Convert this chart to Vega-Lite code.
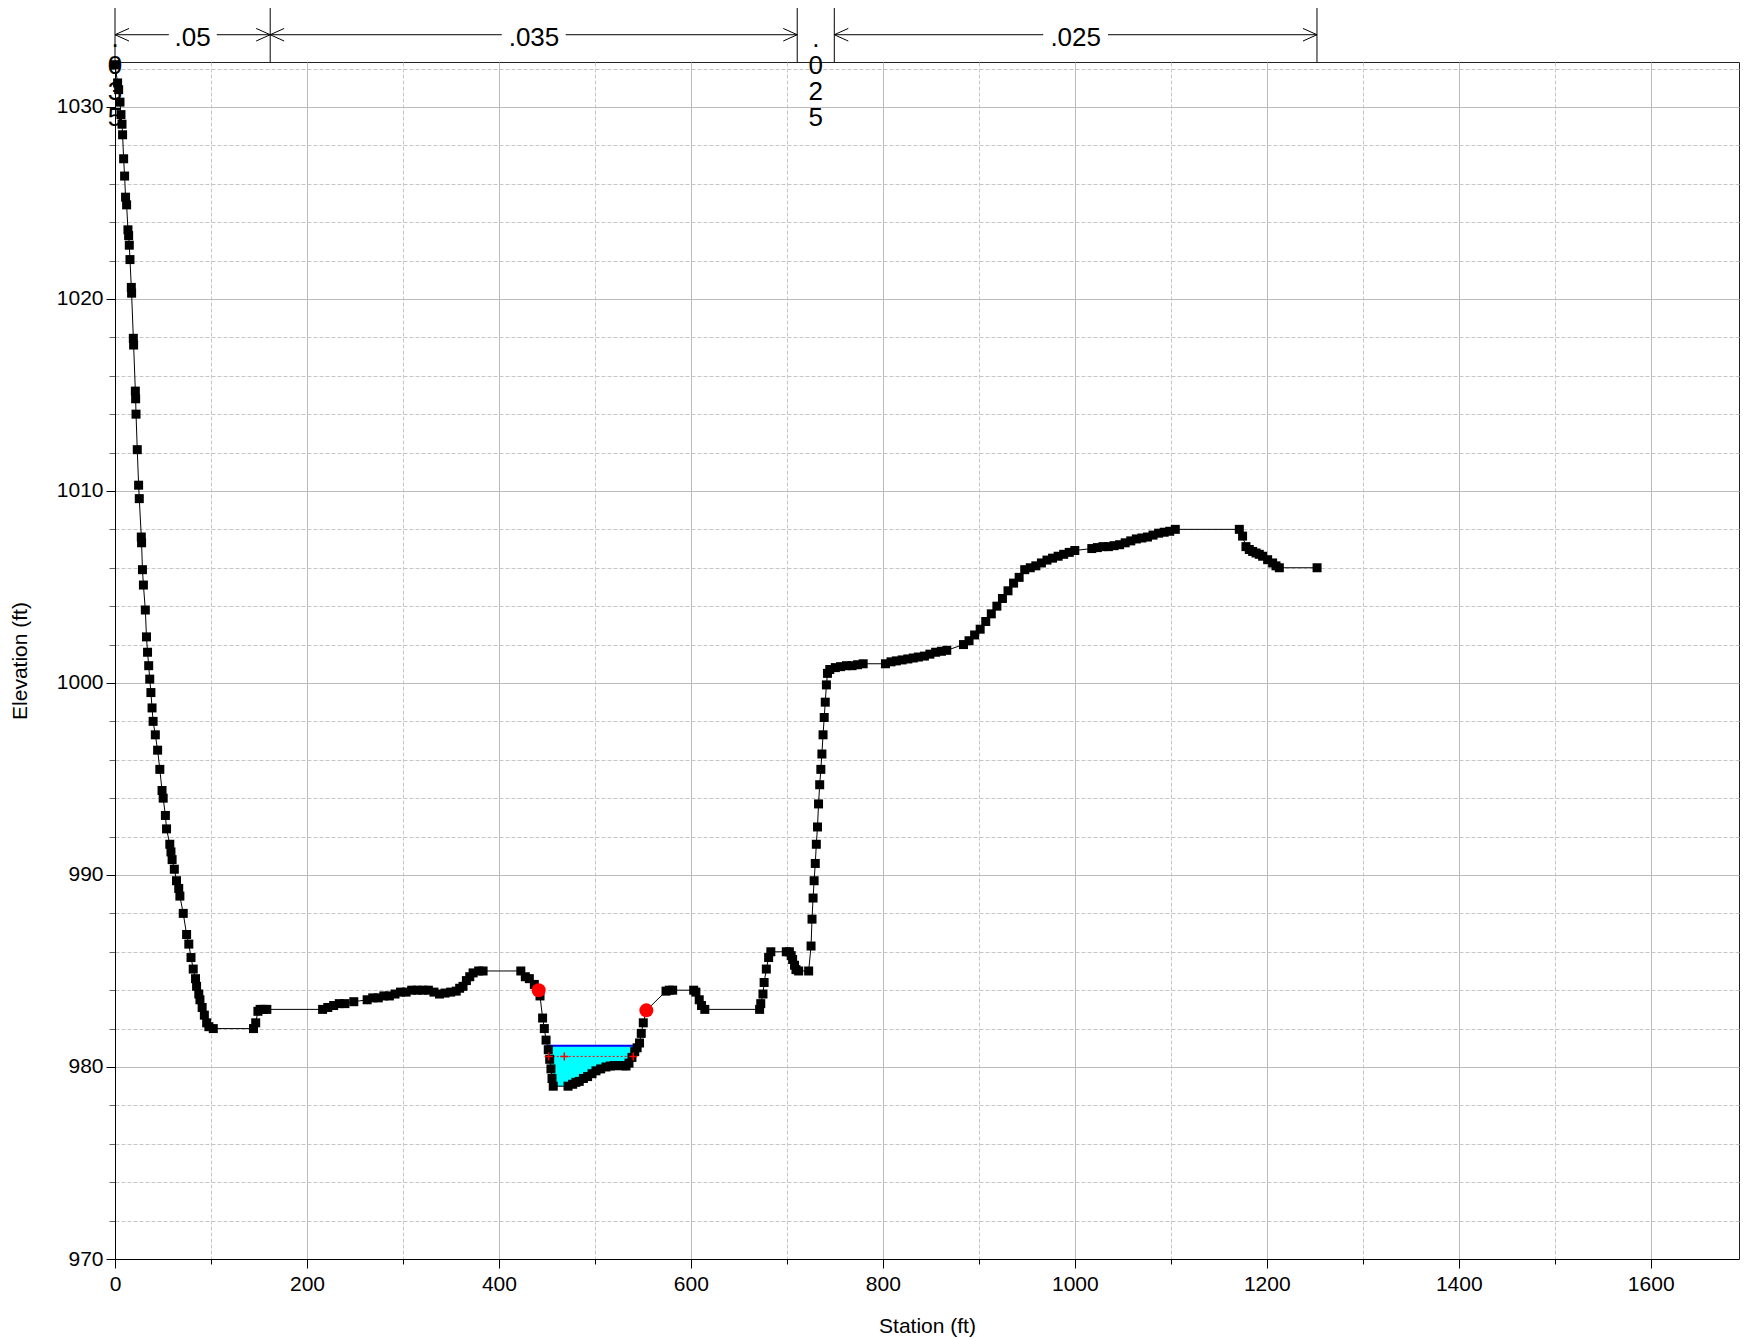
{
  "$schema": "https://vega.github.io/schema/vega-lite/v6.json",
  "width": 1624,
  "height": 1197,
  "autosize": {"type": "none"},
  "padding": {"left": 115, "top": 62, "right": 9, "bottom": 81},
  "background": "white",
  "config": {
    "view": {"stroke": "#222", "strokeWidth": 1},
    "font": "Liberation Sans"
  },
  "datasets": {
    "ground": [
      {"station":0,"elev":1032.2},{"station":2.7,"elev":1031.25},{"station":3.8,"elev":1030.9},{"station":5.2,"elev":1030.25},{"station":6.2,"elev":1029.6},{"station":7.3,"elev":1029.1},{"station":7.9,"elev":1028.55},{"station":9.0,"elev":1027.3},{"station":10.0,"elev":1026.4},{"station":11.0,"elev":1025.3},{"station":12.1,"elev":1024.9},{"station":13.5,"elev":1023.6},{"station":14.2,"elev":1023.3},{"station":14.9,"elev":1022.8},{"station":15.6,"elev":1022.05},{"station":17.0,"elev":1020.6},{"station":17.3,"elev":1020.3},{"station":19.1,"elev":1017.95},{"station":19.4,"elev":1017.6},{"station":21.2,"elev":1015.2},{"station":21.5,"elev":1014.8},{"station":21.9,"elev":1014.0},{"station":23.2,"elev":1012.15},{"station":24.6,"elev":1010.3},{"station":25.3,"elev":1009.6},{"station":27.4,"elev":1007.6},{"station":27.7,"elev":1007.3},{"station":28.6,"elev":1005.9},{"station":29.6,"elev":1005.1},{"station":31.6,"elev":1003.8},{"station":32.8,"elev":1002.4},{"station":33.9,"elev":1001.6},{"station":35.1,"elev":1000.9},{"station":36.2,"elev":1000.2},{"station":37.4,"elev":999.5},{"station":38.6,"elev":998.7},{"station":39.7,"elev":998.0},{"station":42.0,"elev":997.3},{"station":44.4,"elev":996.5},{"station":46.7,"elev":995.5},{"station":49.0,"elev":994.4},{"station":50.2,"elev":994.0},{"station":52.5,"elev":993.1},{"station":53.7,"elev":992.4},{"station":57.1,"elev":991.6},{"station":58.3,"elev":991.2},{"station":59.5,"elev":990.8},{"station":61.8,"elev":990.3},{"station":64.1,"elev":989.7},{"station":66.4,"elev":989.3},{"station":67.6,"elev":988.9},{"station":71.1,"elev":988.0},{"station":74.6,"elev":986.9},{"station":76.9,"elev":986.4},{"station":79.2,"elev":985.7},{"station":81.5,"elev":985.1},{"station":83.9,"elev":984.6},{"station":85.0,"elev":984.2},{"station":87.3,"elev":983.8},{"station":88.5,"elev":983.5},{"station":90.8,"elev":983.1},{"station":93.1,"elev":982.7},{"station":95.5,"elev":982.3},{"station":97.8,"elev":982.1},{"station":102.4,"elev":982.0},
      {"station":144.3,"elev":982.0},{"station":146.6,"elev":982.3},{"station":148.9,"elev":982.9},{"station":151.2,"elev":983.0},{"station":154.7,"elev":983.0},{"station":158.2,"elev":983.0},{"station":216.3,"elev":983.0},{"station":221.7,"elev":983.1},{"station":227.8,"elev":983.2},{"station":233.7,"elev":983.3},{"station":239.5,"elev":983.3},{"station":248.8,"elev":983.4},{"station":262.7,"elev":983.5},{"station":268.5,"elev":983.6},{"station":274.3,"elev":983.6},{"station":280.1,"elev":983.7},{"station":285.9,"elev":983.7},{"station":291.7,"elev":983.8},{"station":297.5,"elev":983.9},{"station":303.3,"elev":983.9},{"station":309.1,"elev":984.0},{"station":314.9,"elev":984.0},{"station":320.7,"elev":984.0},{"station":326.5,"elev":984.0},{"station":332.3,"elev":983.9},{"station":338.1,"elev":983.8},{"station":343.9,"elev":983.85},{"station":349.7,"elev":983.9},{"station":355.5,"elev":983.95},{"station":359.1,"elev":984.1},{"station":362.6,"elev":984.2},{"station":366.1,"elev":984.5},{"station":369.6,"elev":984.7},{"station":373.1,"elev":984.9},{"station":378.9,"elev":985.0},{"station":383.5,"elev":985.0},
      {"station":422.8,"elev":985.0},{"station":427.5,"elev":984.7},{"station":431.7,"elev":984.6},{"station":436.9,"elev":984.3},{"station":441.4,"elev":984.0},{"station":442.8,"elev":983.7},{"station":445.5,"elev":982.55},{"station":447.3,"elev":982.0},{"station":449.1,"elev":981.4},{"station":451.4,"elev":980.9},{"station":452.9,"elev":980.4},{"station":454.2,"elev":979.9},{"station":455.3,"elev":979.4},{"station":456.6,"elev":979.0},{"station":472.0,"elev":979.0},{"station":476.8,"elev":979.1},{"station":480.2,"elev":979.2},{"station":483.7,"elev":979.25},{"station":488.0,"elev":979.4},{"station":492.4,"elev":979.5},{"station":497.0,"elev":979.65},{"station":501.1,"elev":979.8},{"station":506.0,"elev":979.9},{"station":511.5,"elev":980.0},{"station":516.0,"elev":980.05},{"station":520.2,"elev":980.07},{"station":524.5,"elev":980.07},{"station":528.9,"elev":980.07},{"station":532.4,"elev":980.05},{"station":535.5,"elev":980.2},{"station":538.6,"elev":980.5},{"station":541.5,"elev":980.8},{"station":544.0,"elev":981.0},{"station":546.5,"elev":981.25},{"station":548.3,"elev":981.75},{"station":550.4,"elev":982.3},{"station":553.6,"elev":982.95},
      {"station":574.1,"elev":983.95},{"station":577.5,"elev":984.0},{"station":581.0,"elev":984.0},{"station":602.9,"elev":984.0},{"station":605.2,"elev":983.9},{"station":608.7,"elev":983.5},{"station":611.1,"elev":983.2},{"station":614.5,"elev":983.0},{"station":671.6,"elev":983.0},{"station":672.8,"elev":983.3},{"station":675.1,"elev":983.8},{"station":676.3,"elev":984.4},{"station":678.6,"elev":985.1},{"station":681.0,"elev":985.7},{"station":683.3,"elev":986.0},{"station":699.4,"elev":986.0},{"station":702.6,"elev":986.0},{"station":704.5,"elev":985.8},{"station":706.0,"elev":985.6},{"station":708.0,"elev":985.3},{"station":709.5,"elev":985.07},{"station":712.3,"elev":985.0},{"station":722.7,"elev":985.0},{"station":725.2,"elev":986.3},{"station":726.2,"elev":987.7},{"station":727.3,"elev":988.8},{"station":728.4,"elev":989.7},{"station":729.6,"elev":990.6},{"station":730.7,"elev":991.6},{"station":731.9,"elev":992.5},{"station":733.0,"elev":993.7},{"station":734.2,"elev":994.7},{"station":735.4,"elev":995.5},{"station":736.5,"elev":996.3},{"station":737.7,"elev":997.3},{"station":738.9,"elev":998.2},{"station":740.0,"elev":999.0},{"station":741.2,"elev":999.9},{"station":742.3,"elev":1000.5},{"station":744.7,"elev":1000.7},{"station":750.5,"elev":1000.8},{"station":756.0,"elev":1000.85},{"station":762.1,"elev":1000.9},{"station":768.0,"elev":1000.9},{"station":773.7,"elev":1000.95},{"station":779.5,"elev":1001.0},
      {"station":802.7,"elev":1001.0},{"station":808.5,"elev":1001.1},{"station":814.0,"elev":1001.15},{"station":820.1,"elev":1001.2},{"station":826.0,"elev":1001.25},{"station":831.7,"elev":1001.3},{"station":837.0,"elev":1001.35},{"station":843.3,"elev":1001.4},{"station":849.0,"elev":1001.5},{"station":855.0,"elev":1001.6},{"station":861.0,"elev":1001.65},{"station":866.6,"elev":1001.7},{"station":884.0,"elev":1002.0},{"station":889.8,"elev":1002.2},{"station":895.6,"elev":1002.5},{"station":901.4,"elev":1002.8},{"station":907.2,"elev":1003.2},{"station":913.0,"elev":1003.6},{"station":918.8,"elev":1004.0},{"station":924.6,"elev":1004.4},{"station":930.4,"elev":1004.8},{"station":936.2,"elev":1005.2},{"station":942.0,"elev":1005.5},{"station":947.8,"elev":1005.9},{"station":953.6,"elev":1006.0},{"station":959.4,"elev":1006.1},{"station":965.2,"elev":1006.25},{"station":971.0,"elev":1006.4},{"station":976.8,"elev":1006.5},{"station":982.6,"elev":1006.6},{"station":988.4,"elev":1006.7},{"station":994.2,"elev":1006.8},{"station":1000.0,"elev":1006.9},{"station":1017.7,"elev":1007.0},{"station":1023.5,"elev":1007.05},{"station":1029.3,"elev":1007.1},{"station":1035.0,"elev":1007.1},{"station":1040.9,"elev":1007.15},{"station":1046.7,"elev":1007.2},{"station":1052.5,"elev":1007.3},{"station":1058.3,"elev":1007.4},{"station":1064.1,"elev":1007.5},{"station":1069.9,"elev":1007.55},{"station":1075.7,"elev":1007.6},{"station":1081.5,"elev":1007.7},{"station":1087.3,"elev":1007.8},{"station":1093.1,"elev":1007.85},{"station":1098.9,"elev":1007.9},{"station":1104.7,"elev":1008.0},{"station":1171.4,"elev":1008.0},{"station":1174.8,"elev":1007.65},{"station":1178.3,"elev":1007.1},{"station":1181.8,"elev":1006.95},{"station":1185.3,"elev":1006.85},{"station":1188.8,"elev":1006.77},{"station":1192.2,"elev":1006.7},{"station":1195.7,"elev":1006.6},{"station":1200.9,"elev":1006.42},{"station":1206.1,"elev":1006.25},{"station":1209.6,"elev":1006.1},{"station":1213.1,"elev":1006.0},{"station":1252.4,"elev":1006.0}
    ],
    "water": [
      {"station":450.4,"bed":981.1},{"station":451.4,"bed":980.9},{"station":452.9,"bed":980.4},{"station":454.2,"bed":979.9},{"station":455.3,"bed":979.4},{"station":456.6,"bed":979.0},{"station":472.0,"bed":979.0},{"station":476.8,"bed":979.1},{"station":480.2,"bed":979.2},{"station":483.7,"bed":979.25},{"station":488.0,"bed":979.4},{"station":492.4,"bed":979.5},{"station":497.0,"bed":979.65},{"station":501.1,"bed":979.8},{"station":506.0,"bed":979.9},{"station":511.5,"bed":980.0},{"station":516.0,"bed":980.05},{"station":520.2,"bed":980.07},{"station":524.5,"bed":980.07},{"station":528.9,"bed":980.07},{"station":532.4,"bed":980.05},{"station":535.5,"bed":980.2},{"station":538.6,"bed":980.5},{"station":541.5,"bed":980.8},{"station":544.0,"bed":981.0},{"station":545.2,"bed":981.1}
    ],
    "levels": [
      {"kind":"WS","from":450.4,"to":545.2,"elev":981.1},
      {"kind":"Crit","from":451.8,"to":540.0,"elev":980.55}
    ],
    "critpts": [
      {"station":451.8,"elev":980.55},{"station":468.1,"elev":980.55},{"station":540.0,"elev":980.55}
    ],
    "banks": [
      {"station":441.4,"elev":984.0},{"station":553.6,"elev":982.95}
    ],
    "nbounds": [
      {"station":0},{"station":161.7},{"station":710.8},{"station":749.4},{"station":1252.3}
    ],
    "nsegs": [
      {"from":0,"to":56.1},{"from":106.0,"to":161.7},
      {"from":161.7,"to":403.0},{"from":469.6,"to":710.8},
      {"from":749.4,"to":967.1},{"from":1034.6,"to":1252.3}
    ],
    "narrows": [
      {"station":0,"dir":"left"},{"station":161.7,"dir":"right"},
      {"station":161.7,"dir":"left"},{"station":710.8,"dir":"right"},
      {"station":749.4,"dir":"left"},{"station":1252.3,"dir":"right"}
    ],
    "nlabels": [
      {"station":80.8,"n":".05"},{"station":436.5,"n":".035"},{"station":1000.9,"n":".025"}
    ],
    "nvlabels": [
      {"station":0,"n":[".","0","3","5"]},{"station":730.1,"n":[".","0","2","5"]}
    ]
  },
  "layer": [
    {
      "data": {"name": "water"},
      "mark": {"type": "area", "color": "#00ffff", "opacity": 1},
      "encoding": {
        "x": {
          "field": "station", "type": "quantitative", "title": "Station (ft)",
          "scale": {"domain": [0, 1692], "nice": false, "zero": false},
          "axis": {
            "values": [0,100,200,300,400,500,600,700,800,900,1000,1100,1200,1300,1400,1500,1600],
            "tickCount": 200,
            "format": "d",
            "labelExpr": "datum.value % 200 === 0 ? '' + datum.value : ''",
            "labelOverlap": false, "labelFlush": false,
            "grid": true,
            "gridColor": {"condition": {"test": "datum.value % 200 !== 0", "value": "#c6c6c6"}, "value": "#bcbcbc"},
            "gridDash": {"condition": {"test": "datum.value % 200 !== 0", "value": [4, 2]}, "value": []},
            "gridWidth": 1,
            "tickSize": {"condition": {"test": "datum.value % 200 !== 0", "value": 5}, "value": 9},
            "tickColor": "#000",
            "domainColor": "#000",
            "labelFontSize": 21, "labelColor": "#000", "labelPadding": 5, "labelFont": "Liberation Sans",
            "titleFontSize": 21, "titleFontWeight": "normal", "titleColor": "#000", "titleFont": "Liberation Sans",
            "titleX": 812, "titleY": 56, "titleBaseline": "top", "titleAlign": "center"
          }
        },
        "y": {
          "field": "bed", "type": "quantitative", "title": "Elevation (ft)",
          "scale": {"domain": [970, 1032.34], "nice": false, "zero": false},
          "axis": {
            "values": [970,972,974,976,978,980,982,984,986,988,990,992,994,996,998,1000,1002,1004,1006,1008,1010,1012,1014,1016,1018,1020,1022,1024,1026,1028,1030,1032],
            "tickCount": 200,
            "format": "d",
            "labelExpr": "datum.value % 10 === 0 ? '' + datum.value : ''",
            "labelOverlap": false, "labelFlush": false,
            "grid": true,
            "gridColor": {"condition": {"test": "datum.value % 10 !== 0", "value": "#c6c6c6"}, "value": "#bcbcbc"},
            "gridDash": {"condition": {"test": "datum.value % 10 !== 0", "value": [4, 2]}, "value": []},
            "gridWidth": 1,
            "tickSize": {"condition": {"test": "datum.value % 10 !== 0", "value": 6}, "value": 9},
            "tickColor": {"condition": {"test": "datum.value % 10 !== 0", "value": "#666"}, "value": "#000"},
            "domainColor": "#000",
            "labelFontSize": 21, "labelColor": "#000", "labelPadding": 3, "labelFont": "Liberation Sans",
            "titleFontSize": 21, "titleFontWeight": "normal", "titleColor": "#000", "titleFont": "Liberation Sans",
            "titleX": -89, "titleY": 598.5, "titleAngle": 270, "titleBaseline": "alphabetic", "titleAlign": "center"
          }
        },
        "y2": {"datum": 981.1}
      }
    },
    {
      "data": {"name": "levels"},
      "mark": {"type": "rule"},
      "encoding": {
        "x": {"field": "from", "type": "quantitative", "title": "Station (ft)"},
        "x2": {"field": "to"},
        "y": {"field": "elev", "type": "quantitative", "title": "Elevation (ft)"},
        "color": {"field": "kind", "type": "nominal", "scale": {"domain": ["WS", "Crit"], "range": ["#0000ff", "#ff0000"]}, "legend": null},
        "strokeWidth": {"field": "kind", "type": "nominal", "scale": {"domain": ["WS", "Crit"], "range": [2, 1]}, "legend": null},
        "strokeDash": {"field": "kind", "type": "nominal", "scale": {"domain": ["WS", "Crit"], "range": [[1, 0], [2, 2]]}, "legend": null}
      }
    },
    {
      "data": {"name": "nbounds"},
      "mark": {"type": "rule", "color": "#000", "strokeWidth": 1},
      "encoding": {
        "x": {"field": "station", "type": "quantitative", "title": "Station (ft)"},
        "y": {"datum": 1032.34, "type": "quantitative", "title": "Elevation (ft)"},
        "y2": {"datum": 1035.15}
      }
    },
    {
      "data": {"name": "nsegs"},
      "mark": {"type": "rule", "color": "#000", "strokeWidth": 1},
      "encoding": {
        "x": {"field": "from", "type": "quantitative", "title": "Station (ft)"},
        "x2": {"field": "to"},
        "y": {"datum": 1033.76, "type": "quantitative", "title": "Elevation (ft)"}
      }
    },
    {
      "data": {"name": "narrows"},
      "mark": {"type": "point", "filled": false, "stroke": "#000", "strokeWidth": 1, "size": 196, "opacity": 1},
      "encoding": {
        "x": {"field": "station", "type": "quantitative", "title": "Station (ft)"},
        "y": {"datum": 1033.76, "type": "quantitative", "title": "Elevation (ft)"},
        "shape": {"field": "dir", "type": "nominal", "scale": {"domain": ["left", "right"], "range": ["M 2 -0.9 L 0 0 L 2 0.9", "M -2 -0.9 L 0 0 L -2 0.9"]}, "legend": null}
      }
    },
    {
      "data": {"name": "nlabels"},
      "mark": {"type": "text", "fontSize": 26, "font": "Liberation Sans", "color": "#000", "align": "center", "baseline": "alphabetic"},
      "encoding": {
        "x": {"field": "station", "type": "quantitative", "title": "Station (ft)"},
        "y": {"datum": 1033.17, "type": "quantitative", "title": "Elevation (ft)"},
        "text": {"field": "n", "type": "nominal"}
      }
    },
    {
      "data": {"name": "nvlabels"},
      "mark": {"type": "text", "fontSize": 26, "font": "Liberation Sans", "color": "#000", "align": "center", "baseline": "alphabetic", "lineHeight": 26.3},
      "encoding": {
        "x": {"field": "station", "type": "quantitative", "title": "Station (ft)"},
        "y": {"datum": 1033.1, "type": "quantitative", "title": "Elevation (ft)"},
        "text": {"field": "n", "type": "nominal"}
      }
    },
    {
      "data": {"name": "ground"},
      "mark": {"type": "line", "color": "#000", "strokeWidth": 1},
      "encoding": {
        "x": {"field": "station", "type": "quantitative", "title": "Station (ft)"},
        "y": {"field": "elev", "type": "quantitative", "title": "Elevation (ft)"}
      }
    },
    {
      "data": {"name": "ground"},
      "mark": {"type": "point", "shape": "square", "filled": true, "color": "#000", "size": 81, "opacity": 1},
      "encoding": {
        "x": {"field": "station", "type": "quantitative", "title": "Station (ft)"},
        "y": {"field": "elev", "type": "quantitative", "title": "Elevation (ft)"}
      }
    },
    {
      "data": {"name": "banks"},
      "mark": {"type": "point", "shape": "circle", "filled": true, "color": "#ff0000", "size": 196, "opacity": 1},
      "encoding": {
        "x": {"field": "station", "type": "quantitative", "title": "Station (ft)"},
        "y": {"field": "elev", "type": "quantitative", "title": "Elevation (ft)"}
      }
    },
    {
      "data": {"name": "critpts"},
      "mark": {"type": "point", "shape": "M -1 0 L 1 0 M 0 -1 L 0 1", "filled": false, "stroke": "#ff0000", "strokeWidth": 1.5, "size": 64, "opacity": 1},
      "encoding": {
        "x": {"field": "station", "type": "quantitative", "title": "Station (ft)"},
        "y": {"field": "elev", "type": "quantitative", "title": "Elevation (ft)"}
      }
    }
  ]
}
